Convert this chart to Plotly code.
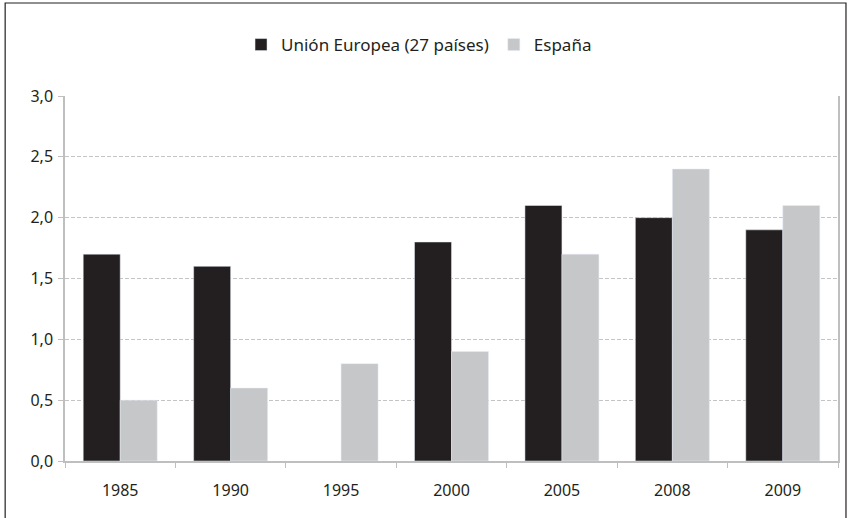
import plotly.graph_objects as go

years = ["1985", "1990", "1995", "2000", "2005", "2008", "2009"]
eu = [1.7, 1.6, None, 1.8, 2.1, 2.0, 1.9]
es = [0.5, 0.6, 0.8, 0.9, 1.7, 2.4, 2.1]
y_ticks = [0, 0.5, 1.0, 1.5, 2.0, 2.5, 3.0]

W, H = 849, 518
ml, mr, mt, mb = 65, 9, 96, 57

fig = go.Figure()
fig.add_bar(x=years, y=eu, name="Unión Europea (27 países)", marker_color="#231f20")
fig.add_bar(x=years, y=es, name="España", marker_color="#c6c7c8")

pw = W - ml - mr
ph = H - mt - mb
# outer frame in paper coords
x0 = (5 - ml) / pw
x1 = (848 - ml) / pw
y1 = (H - 3 - mb) / ph
y0 = -(mb + 5) / ph
fig.add_shape(type="rect", xref="paper", yref="paper", x0=x0, x1=x1, y0=y0, y1=y1,
              line=dict(color="#231f20", width=1.2), layer="above")

fig.update_layout(
    width=W, height=H,
    margin=dict(l=ml, r=mr, t=mt, b=mb),
    plot_bgcolor="white", paper_bgcolor="white",
    barmode="group", bargap=0.33, bargroupgap=0,
    separators=", ",
    font=dict(family="Noto Sans", size=16, color="#231f20"),
    legend=dict(orientation="h", x=0.458, xanchor="center", y=(H - 45 - mb) / ph, yanchor="middle",
                font=dict(size=17), itemwidth=30, traceorder="normal"),
    xaxis=dict(showline=True, linecolor="#bfbfbf", linewidth=1.5, ticks="outside",
               tickson="boundaries", ticklen=5, tickcolor="#bfbfbf", showgrid=False,
               tickfont=dict(size=16), ticklabelstandoff=14),
    yaxis=dict(range=[0, 3.0], tickvals=y_ticks, tickformat=".1f", showline=True,
               linecolor="#bfbfbf", linewidth=1.5, mirror=True, ticks="outside", ticklen=5,
               tickcolor="#bfbfbf", showgrid=True, gridcolor="#c4c4c4", griddash="4px,2px",
               gridwidth=1, zeroline=False, tickfont=dict(size=16), ticklabelstandoff=2),
)
fig.write_html("out.html", config={"displayModeBar": False},
               post_script="document.body.style.margin='0px';document.body.style.overflow='hidden';")
